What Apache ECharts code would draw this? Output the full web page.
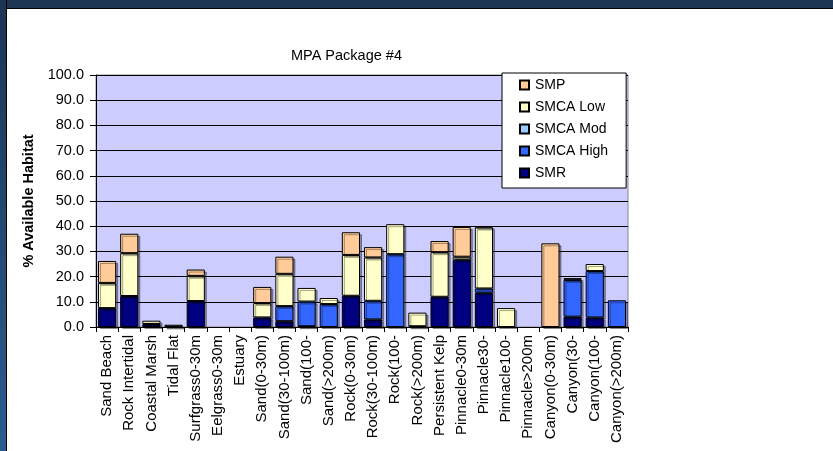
<!DOCTYPE html>
<html><head><meta charset="utf-8">
<script src="https://cdn.jsdelivr.net/npm/echarts@6/dist/echarts.min.js"></script>
<style>
html,body{margin:0;padding:0;background:#fff;}
#wrap{position:relative;width:833px;height:451px;overflow:hidden;background:#fff;}
#chart{position:absolute;left:0;top:0;width:833px;height:451px;}
#topband{position:absolute;left:0;top:0;width:833px;height:8px;background:#1C3553;border-bottom:1px solid #000;z-index:5;}
#leftband{position:absolute;left:0;top:0;width:6px;height:451px;background:linear-gradient(#1C3553,#2B5C90);border-right:1px solid #000;z-index:5;}
</style></head>
<body><div id="wrap"><div id="chart"></div><div id="topband"></div><div id="leftband"></div></div>
<script>
const categories = ['Sand Beach','Rock Intertidal','Coastal Marsh','Tidal Flat','Surfgrass0-30m','Eelgrass0-30m','Estuary','Sand(0-30m)','Sand(30-100m)','Sand(100-','Sand(>200m)','Rock(0-30m)','Rock(30-100m)','Rock(100-','Rock(>200m)','Persistent Kelp','Pinnacle0-30m','Pinnacle30-','Pinnacle100-','Pinnacle>200m','Canyon(0-30m)','Canyon(30-','Canyon(100-','Canyon(>200m)'];
const SMR      = [7.5, 12.3, 1.2, 0.2, 10.3, 0, 0, 3.8, 2.3, 0.3, 0, 12.4, 3.0, 0, 0.3, 12.0, 26.7, 13.6, 0, 0, 0, 4.1, 3.8, 0];
const SMCAHigh = [0, 0, 0, 0, 0, 0, 0, 0, 6.0, 9.8, 9.1, 0, 7.4, 28.9, 0, 0, 0, 1.7, 0, 0, 0, 14.6, 18.4, 10.6];
const SMCAMod  = [0, 0, 0, 0, 0, 0, 0, 0, 0, 0, 0, 0, 0, 0, 0, 0, 0, 0, 0, 0, 0, 0, 0, 0];
const SMCALow  = [10.0, 17.0, 1.3, 0.7, 10.0, 0, 0, 5.7, 12.8, 5.4, 2.4, 16.2, 17.2, 11.9, 5.4, 17.7, 1.2, 24.2, 7.5, 0, 0, 0, 2.8, 0];
const SMP      = [8.7, 7.7, 0, 0, 2.5, 0, 0, 6.4, 6.8, 0, 0, 9.0, 4.1, 0, 0, 4.4, 11.8, 0.4, 0, 0, 33.2, 0.7, 0, 0];
const yTicks = [0, 10, 20, 30, 40, 50, 60, 70, 80, 90, 100];

const FONT = 'Liberation Sans, Arial, sans-serif';
const colors = {SMR:'#000080', 'SMCA High':'#3366FF', 'SMCA Mod':'#99CCFF', 'SMCA Low':'#FFFFCC', SMP:'#FFCC99'};
function mk(name, data){
  return {name, type:'bar', stack:'t', data:data.map(v => v === 0 ? null : v), barCategoryGap:'18%',
    itemStyle:{color:colors[name], borderColor:'#000', borderWidth:1,
      shadowColor:'rgba(0,0,0,0.35)', shadowOffsetX:2, shadowOffsetY:2, shadowBlur:0}};
}
const chart = echarts.init(document.getElementById('chart'), null, {renderer:'canvas'});
chart.setOption({
  animation:false,
  backgroundColor:'#fff',
  title:{text:'MPA Package #4', left:286, top:43, textStyle:{fontFamily:FONT, fontSize:14.5, fontWeight:'normal', color:'#000'}},
  grid:{left:96, right:205, top:75, bottom:124, show:true, backgroundColor:'#CCCCFF', borderColor:'#888', borderWidth:1},
  legend:{
    data:['SMP','SMCA Low','SMCA Mod','SMCA High','SMR'],
    orient:'vertical', left:502, top:73,
    backgroundColor:'#fff', borderColor:'#000', borderWidth:1,
    padding:[5,18,8,17], itemGap:8, itemWidth:9, itemHeight:9, icon:'rect',
    textStyle:{fontFamily:FONT, fontSize:14, color:'#000', lineHeight:14, padding:[0,0,0,1]}
  },
  xAxis:{type:'category', data:categories,
    axisLine:{lineStyle:{color:'#000', width:1}},
    axisTick:{show:true, length:5, alignWithLabel:false, interval:0, lineStyle:{color:'#000'}},
    axisLabel:{rotate:90, interval:0, margin:8, fontFamily:FONT, fontSize:15, color:'#000'}
  },
  yAxis:{type:'value', min:yTicks[0], max:yTicks[yTicks.length-1], interval:10,
    name:'% Available Habitat', nameLocation:'middle', nameGap:56, nameRotate:90,
    nameTextStyle:{fontFamily:FONT, fontSize:14.5, fontWeight:'bold', color:'#000'},
    axisLine:{show:true, lineStyle:{color:'#000'}},
    axisTick:{show:true, length:6, lineStyle:{color:'#000'}},
    axisLabel:{formatter:v=>v.toFixed(1), fontFamily:FONT, fontSize:14.5, color:'#000', margin:12},
    splitLine:{show:true, lineStyle:{color:'#000', width:1}}
  },
  series:[mk('SMR',SMR), mk('SMCA High',SMCAHigh), mk('SMCA Mod',SMCAMod), mk('SMCA Low',SMCALow), mk('SMP',SMP)]
});
</script></body></html>
